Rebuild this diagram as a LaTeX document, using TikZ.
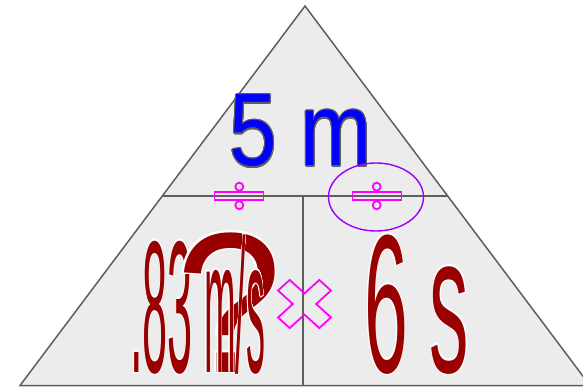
\documentclass[tikz,border=0pt]{standalone}
\usepackage{fontspec}
\setmainfont{Liberation Sans}
\usepackage{graphicx}
\usepackage{contour}
\usetikzlibrary{shapes.geometric}
\definecolor{trifill}{HTML}{ECECEC}
\definecolor{triline}{HTML}{5E5E5E}
\definecolor{mag}{HTML}{FF00FF}
\definecolor{violetline}{HTML}{9B00FF}
\definecolor{darkred}{HTML}{990000}
\definecolor{topblue}{HTML}{0000FF}
\newcommand{\redtxt}[3]{{\fontsize{#1}{#1}\selectfont\scalebox{#2}[1]{\color{darkred}\contour{white}{#3}}}}
\begin{document}
\begin{tikzpicture}[x=1pt,y=-1pt,
  tri/.style={draw=triline,fill=trifill,line width=1.5pt,line join=miter},
  divline/.style={draw=triline,line width=1.5pt},
  txt/.style={inner sep=0pt,outer sep=0pt,anchor=base west},
  divrect/.style={draw=mag,line width=1.8pt,minimum width=49pt,minimum height=8pt,inner sep=0pt},
  divdot/.style={draw=mag,line width=1.8pt,circle,minimum size=8pt,inner sep=0pt},
  oval/.style={draw=violetline,line width=1.4pt,ellipse,minimum width=95pt,minimum height=68pt,inner sep=0pt},
  crossline/.style={draw=mag,line width=1.8pt,line join=miter}]
\useasboundingbox (0,0) rectangle (583,387);
\coordinate (apex) at (305,6);
\coordinate (bl) at (20,385.5);
\coordinate (br) at (590,385.5);
\coordinate (ml) at (162.3,196);
\coordinate (mr) at (447.7,196);
\coordinate (mt) at (303,196);
\coordinate (mb) at (303,385.5);
\draw[tri] (apex) -- (bl) -- (br) -- cycle;
\draw[divline] (ml) -- (mr);
\draw[divline] (mt) -- (mb);
% top text
\contourlength{1.3pt}
\node[txt] (dist) at (229.6,166) {\fontsize{103}{103}\selectfont\scalebox{0.83}[1]{\color{topblue}\contour{triline}{5 m}}};
% divide signs
\node[divrect] (d1) at (239,196) {};
\node[divdot] (d1a) at (239.3,186.7) {};
\node[divdot] (d1b) at (239.3,205.2) {};
\node[divrect] (d2) at (377,196) {};
\node[divdot] (d2a) at (376.7,186.7) {};
\node[divdot] (d2b) at (376.7,205.2) {};
\node[oval] (ring) at (376,197) {};
% bottom texts
\contourlength{1.5pt}
\node[txt] (speed) at (130,372) {\redtxt{188}{0.24}{.83}};
\node[txt] (quest) at (176,372) {\redtxt{200}{0.95}{?}};
\node[txt] (unit) at (204,372) {\redtxt{190}{0.2}{m/s}};
\node[txt] (time) at (364,372) {\redtxt{197}{0.4}{6 s}};
% multiply sign
\draw[crossline,shift={(304.5,304)},xscale=1.1,rotate=45]
  (7.5,7.5) -- (7.5,26.5) -- (-7.5,26.5) -- (-7.5,7.5) -- (-26.5,7.5) -- (-26.5,-7.5)
  -- (-7.5,-7.5) -- (-7.5,-26.5) -- (7.5,-26.5) -- (7.5,-7.5) -- (26.5,-7.5) -- (26.5,7.5) -- cycle;
\end{tikzpicture}
\end{document}
